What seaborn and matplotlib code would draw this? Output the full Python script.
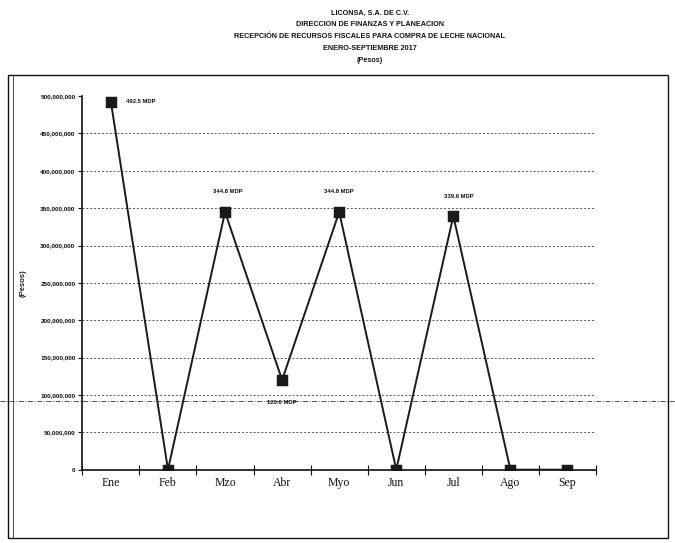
import matplotlib
matplotlib.use("Agg")
import matplotlib.pyplot as plt
import seaborn as sns
import pandas as pd
import numpy as np
from matplotlib.ticker import FuncFormatter, FixedLocator

# Monthly receipts of federal funds (pesos)
meses = ["Ene", "Feb", "Mzo", "Abr", "Myo", "Jun", "Jul", "Ago", "Sep"]
montos = [492_500_000, 0, 344_800_000, 120_000_000, 344_800_000, 0, 339_600_000, 0, 0]
etiquetas = {0: "492.5 MDP", 2: "344.8 MDP", 3: "120.0 MDP", 4: "344.8 MDP", 6: "339.6 MDP"}

titulos = [
    "LICONSA, S.A. DE C.V.",
    "DIRECCION DE FINANZAS Y PLANEACION",
    "RECEPCIÓN DE RECURSOS FISCALES PARA COMPRA DE LECHE NACIONAL",
    "ENERO-SEPTIEMBRE 2017",
    "(Pesos)",
]

df = pd.DataFrame({"mes": meses, "monto": montos})

sns.set_theme(style="white")
plt.rcParams["font.family"] = ["Liberation Sans", "DejaVu Sans"]

fig = plt.figure(figsize=(6.75, 5.43), dpi=100)
ax = fig.add_axes([0.122, 0.135, 0.761, 0.688])

sns.pointplot(data=df, x="mes", y="monto", color="#1a1a1a", markers="s",
              markersize=7.5, linewidth=1.4, ax=ax, errorbar=None)

ax.set_ylim(0, 500_000_000)
ax.set_xlim(-0.5, 8.5)
ax.set_yticks(np.arange(0, 500_000_001, 50_000_000))
ax.yaxis.set_major_formatter(FuncFormatter(lambda v, p: f"{int(v):,}"))
ax.tick_params(axis="y", labelsize=4.6, length=3, width=0.8, direction="out",
               left=True, pad=2, colors="#111111")
for lbl in ax.get_yticklabels():
    lbl.set_fontweight("bold")

# category labels centred, boundary ticks crossing the axis
ax.set_xticks(range(len(meses)))
ax.set_xticklabels(meses, fontfamily="Liberation Serif", fontsize=8.5)
ax.tick_params(axis="x", length=0, pad=5, colors="#111111")
ax.xaxis.set_minor_locator(FixedLocator(np.arange(-0.5, 9, 1)))
ax.tick_params(axis="x", which="minor", length=7, width=0.8, direction="inout",
               bottom=True, color="#111111")

ax.set_xlabel("")
ax.set_ylabel("(Pesos)", fontsize=5.5, fontweight="bold", labelpad=10)

# broken dotted guide lines
for v in np.arange(50_000_000, 500_000_000, 50_000_000):
    ax.axhline(v, color="#555555", lw=0.7, ls=(0, (2, 2)), zorder=0)

for side in ["top", "right"]:
    ax.spines[side].set_visible(False)
for side in ["left", "bottom"]:
    ax.spines[side].set_color("#111111")
    ax.spines[side].set_linewidth(1.2)

# value labels
offsets = {0: (11, 0, "left"), 2: (2, 15, "center"), 3: (0, -16, "center"),
           4: (0, 15, "center"), 6: (4, 14, "center")}
for i, txt in etiquetas.items():
    dx, dy, ha = offsets[i]
    ax.annotate(txt, (i, montos[i]), xytext=(dx, dy), textcoords="offset points",
                fontsize=4.2, fontweight="bold", ha=ha, va="center", color="#111111")

# title block
ys = [0.975, 0.954, 0.932, 0.911, 0.889]
for t, y in zip(titulos, ys):
    fig.text(0.548, y, t, ha="center", va="center", fontsize=5.2,
             fontweight="bold", color="#111111")

# outer frame
frame = plt.Rectangle((0.012, 0.01), 0.978, 0.852, transform=fig.transFigure,
                      fill=False, lw=1.0, edgecolor="#111111")
fig.add_artist(frame)
fig.add_artist(plt.Line2D([0.019, 0.019], [0.01, 0.862], transform=fig.transFigure,
                          lw=0.6, color="#333333"))
# long rule crossing the page
fig.add_artist(plt.Line2D([0.0, 1.0], [0.262, 0.262], transform=fig.transFigure,
                          lw=0.6, color="#333333", ls=(0, (6, 2, 1, 2))))

fig.savefig("out.png", dpi=100)
